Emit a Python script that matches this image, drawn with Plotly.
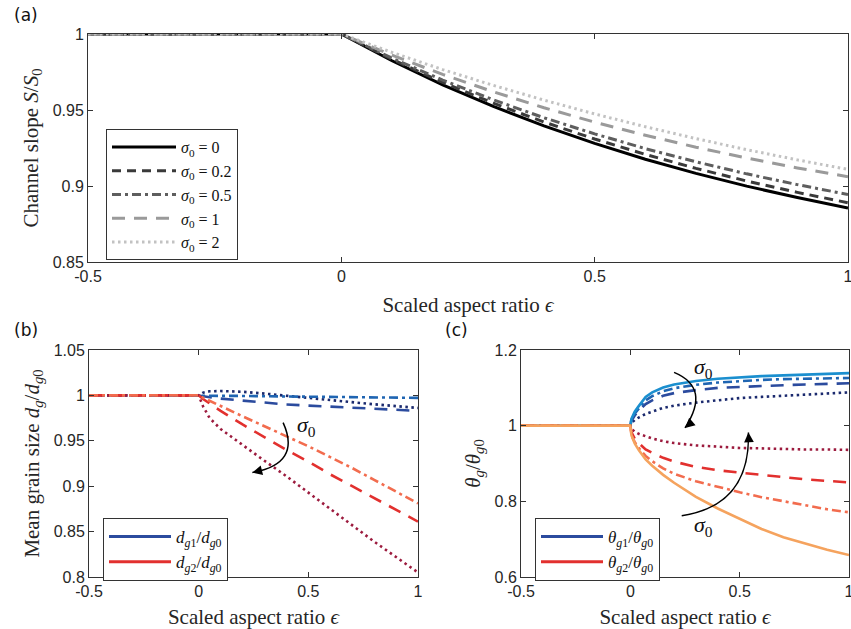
import plotly.graph_objects as go

# ---------------- data ----------------
# panel (a): channel slope S/S0
eps_a = [-0.5, 0.0, 0.1, 0.2, 0.3, 0.4, 0.5, 0.6, 0.7, 0.8, 0.9, 1.0]
S_sig0 = [1, 1, 0.9824, 0.9666, 0.9524, 0.9395, 0.9280, 0.9176, 0.9083, 0.8999, 0.8924, 0.8855]
S_sig02 = [1, 1, 0.9833, 0.9682, 0.9545, 0.9421, 0.9309, 0.9208, 0.9116, 0.9033, 0.8958, 0.8890]
S_sig05 = [1, 1, 0.9841, 0.9697, 0.9567, 0.9449, 0.9343, 0.9246, 0.9159, 0.9080, 0.9009, 0.8944]
S_sig1 = [1, 1, 0.9861, 0.9734, 0.9620, 0.9515, 0.9420, 0.9334, 0.9255, 0.9184, 0.9119, 0.9061]
S_sig2 = [1, 1, 0.9879, 0.9766, 0.9662, 0.9565, 0.9474, 0.9390, 0.9312, 0.9239, 0.9172, 0.9109]
labels_a = ["σ0 = 0", "σ0 = 0.2", "σ0 = 0.5", "σ0 = 1", "σ0 = 2"]

# panel (b): mean grain size
eps_b = [-0.5, 0.0, 0.02, 0.05, 0.1, 0.2, 0.3, 0.4, 0.5, 0.6, 0.7, 0.8, 0.9, 1.0]
dg1_dashdot = [1, 1, 1.0, 0.9999, 0.9997, 0.9994, 0.9991, 0.9988, 0.9985, 0.9982, 0.9979, 0.9977, 0.9975, 0.9973]
dg1_dash = [1, 1, 0.999, 0.998, 0.9965, 0.9943, 0.992, 0.990, 0.9888, 0.9876, 0.9864, 0.9852, 0.984, 0.983]
dg1_dot = [1, 1, 1.003, 1.0045, 1.0048, 1.004, 1.002, 0.9995, 0.9972, 0.9948, 0.9922, 0.9902, 0.9882, 0.9862]
dg2_dashdot = [1, 1, 0.9975, 0.994, 0.988, 0.977, 0.966, 0.955, 0.944, 0.932, 0.920, 0.907, 0.894, 0.881]
dg2_dash = [1, 1, 0.996, 0.991, 0.983, 0.968, 0.954, 0.940, 0.927, 0.913, 0.900, 0.887, 0.874, 0.861]
dg2_dot = [1, 1, 0.988, 0.975, 0.963, 0.945, 0.928, 0.911, 0.893, 0.875, 0.857, 0.839, 0.822, 0.805]

# panel (c): geometric standard deviation
eps_c = [-0.5, 0.0, 0.005, 0.01, 0.02, 0.04, 0.07, 0.1, 0.15, 0.2, 0.3, 0.4, 0.5, 0.6, 0.7, 0.8, 0.9, 1.0]
th1_solid = [1, 1, 1.018, 1.026, 1.037, 1.053, 1.076, 1.088, 1.101, 1.109, 1.118, 1.124, 1.128, 1.131, 1.133, 1.135, 1.137, 1.139]
th1_dashdot = [1, 1, 1.016, 1.023, 1.032, 1.046, 1.067, 1.078, 1.091, 1.099, 1.108, 1.114, 1.118, 1.121, 1.123, 1.124, 1.125, 1.126]
th1_dash = [1, 1, 1.013, 1.019, 1.027, 1.040, 1.057, 1.067, 1.079, 1.086, 1.094, 1.100, 1.103, 1.105, 1.107, 1.109, 1.110, 1.112]
th1_dot = [1, 1, 1.007, 1.010, 1.015, 1.022, 1.031, 1.037, 1.047, 1.053, 1.061, 1.067, 1.073, 1.076, 1.079, 1.082, 1.085, 1.088]
th2_dot = [1, 1, 0.992, 0.989, 0.984, 0.978, 0.971, 0.966, 0.959, 0.954, 0.948, 0.944, 0.941, 0.940, 0.938, 0.937, 0.937, 0.936]
th2_dash = [1, 1, 0.983, 0.976, 0.966, 0.953, 0.937, 0.928, 0.915, 0.905, 0.891, 0.882, 0.876, 0.869, 0.864, 0.858, 0.854, 0.850]
th2_dashdot = [1, 1, 0.978, 0.968, 0.957, 0.940, 0.920, 0.906, 0.887, 0.873, 0.853, 0.838, 0.824, 0.811, 0.800, 0.789, 0.779, 0.771]
th2_solid = [1, 1, 0.975, 0.966, 0.953, 0.934, 0.911, 0.894, 0.870, 0.849, 0.812, 0.781, 0.753, 0.727, 0.705, 0.688, 0.672, 0.658]

xticks = [-0.5, 0, 0.5, 1]
xticktext = ["-0.5", "0", "0.5", "1"]
yticks_a = [0.85, 0.9, 0.95, 1]
yticktext_a = ["0.85", "0.9", "0.95", "1"]
yticks_b = [0.8, 0.85, 0.9, 0.95, 1, 1.05]
yticktext_b = ["0.8", "0.85", "0.9", "0.95", "1", "1.05"]
yticks_c = [0.6, 0.8, 1, 1.2]
yticktext_c = ["0.6", "0.8", "1", "1.2"]

# ---------------- styles ----------------
SERIF = "Liberation Serif"
SANS = "Liberation Sans"
DASH_S = "9px,6px"
DASH_L = "13px,9px"
DASHDOT = "9px,4px,3px,4px"
DOT = "2.5px,3.5px"

BLUE_SOLID = "#1b8fcf"
BLUE_DASHDOT = "#1f65b2"
BLUE_DASH = "#2b4b9e"
BLUE_DOT = "#1b2a6e"
RED_DOT = "#9c1b3e"
RED_DASH = "#e2302e"
RED_DASHDOT = "#f26c4e"
RED_SOLID = "#f5a35e"


def sig(txt):
    val = txt.split("=")[1].strip()
    return "<i>σ</i><sub>0</sub> = " + val


fig = go.Figure()

# panel (a)
a_series = [S_sig0, S_sig02, S_sig05, S_sig1, S_sig2]
a_colors = ["#000000", "#3a3a3a", "#5e5e5e", "#9a9a9a", "#c2c2c2"]
a_dash = ["solid", DASH_S, DASHDOT, DASH_L, DOT]
for ys, col, ds, lab in zip(a_series, a_colors, a_dash, labels_a):
    fig.add_trace(go.Scatter(x=eps_a, y=ys, mode="lines", name=sig(lab),
                             line=dict(color=col, width=3, dash=ds),
                             xaxis="x", yaxis="y", legend="legend"))

# panel (b)
b_series = [(dg1_dot, BLUE_DOT, DOT), (dg1_dash, BLUE_DASH, DASH_L), (dg1_dashdot, BLUE_DASHDOT, DASHDOT),
            (dg2_dot, RED_DOT, DOT), (dg2_dash, RED_DASH, DASH_L), (dg2_dashdot, RED_DASHDOT, DASHDOT)]
for ys, col, ds in b_series:
    fig.add_trace(go.Scatter(x=eps_b, y=ys, mode="lines", showlegend=False,
                             line=dict(color=col, width=2.6, dash=ds),
                             xaxis="x2", yaxis="y2"))
fig.add_trace(go.Scatter(x=[None], y=[None], mode="lines", xaxis="x2", yaxis="y2",
                         name="<i>d</i><sub><i>g</i>1</sub>/<i>d</i><sub><i>g</i>0</sub>",
                         line=dict(color=BLUE_DASH, width=3), legend="legend2"))
fig.add_trace(go.Scatter(x=[None], y=[None], mode="lines", xaxis="x2", yaxis="y2",
                         name="<i>d</i><sub><i>g</i>2</sub>/<i>d</i><sub><i>g</i>0</sub>",
                         line=dict(color=RED_DASH, width=3), legend="legend2"))

# panel (c)
c_series = [(th1_dot, BLUE_DOT, DOT), (th1_dash, BLUE_DASH, DASH_L), (th1_dashdot, BLUE_DASHDOT, DASHDOT),
            (th1_solid, BLUE_SOLID, "solid"),
            (th2_dot, RED_DOT, DOT), (th2_dash, RED_DASH, DASH_L), (th2_dashdot, RED_DASHDOT, DASHDOT),
            (th2_solid, RED_SOLID, "solid")]
for ys, col, ds in c_series:
    fig.add_trace(go.Scatter(x=eps_c, y=ys, mode="lines", showlegend=False,
                             line=dict(color=col, width=2.6, dash=ds),
                             xaxis="x3", yaxis="y3"))
fig.add_trace(go.Scatter(x=[None], y=[None], mode="lines", xaxis="x3", yaxis="y3",
                         name="<i>θ</i><sub><i>g</i>1</sub>/<i>θ</i><sub><i>g</i>0</sub>",
                         line=dict(color=BLUE_DASH, width=3), legend="legend3"))
fig.add_trace(go.Scatter(x=[None], y=[None], mode="lines", xaxis="x3", yaxis="y3",
                         name="<i>θ</i><sub><i>g</i>2</sub>/<i>θ</i><sub><i>g</i>0</sub>",
                         line=dict(color=RED_DASH, width=3), legend="legend3"))

W, H = 851, 629


def ax_common(**kw):
    d = dict(showline=True, linecolor="#333333", linewidth=1, mirror="ticks",
             ticks="inside", ticklen=5, tickcolor="#333333", showgrid=False,
             zeroline=False, tickfont=dict(family=SANS, size=16, color="#262626"),
             automargin=False, ticklabeloverflow="allow")
    d.update(kw)
    return d


xtitle = dict(text="Scaled aspect ratio <i>ϵ</i>", font=dict(family=SERIF, size=21, color="#262626"), standoff=13)

fig.update_layout(
    width=W, height=H, margin=dict(l=0, r=0, t=0, b=0),
    plot_bgcolor="white", paper_bgcolor="white",
    font=dict(family=SERIF, color="#111"),
    xaxis=ax_common(domain=[88 / W, 848 / W], range=[-0.5, 1], tickvals=xticks, ticktext=xticktext,
                    anchor="y", title=xtitle),
    yaxis=ax_common(domain=[1 - 262 / H, 1 - 34 / H], range=[0.85, 1], tickvals=yticks_a,
                    ticktext=yticktext_a, anchor="x",
                    title=dict(text="Channel slope <i>S</i>/<i>S</i><sub>0</sub>",
                               font=dict(family=SERIF, size=21, color="#262626"), standoff=8)),
    xaxis2=ax_common(domain=[89 / W, 418 / W], range=[-0.5, 1], tickvals=xticks, ticktext=xticktext,
                     anchor="y2", title=xtitle),
    yaxis2=ax_common(domain=[1 - 577 / H, 1 - 350 / H], range=[0.8, 1.05], tickvals=yticks_b,
                     ticktext=yticktext_b, anchor="x2",
                     title=dict(text="Mean grain size <i>d<sub>g</sub></i>/<i>d</i><sub><i>g</i>0</sub>",
                                font=dict(family=SERIF, size=21, color="#262626"), standoff=8)),
    xaxis3=ax_common(domain=[521 / W, 849 / W], range=[-0.5, 1], tickvals=xticks, ticktext=xticktext,
                     anchor="y3", title=xtitle),
    yaxis3=ax_common(domain=[1 - 577 / H, 1 - 350 / H], range=[0.6, 1.2], tickvals=yticks_c,
                     ticktext=yticktext_c, anchor="x3",
                     title=dict(text="<i>θ<sub>g</sub></i>/<i>θ</i><sub><i>g</i>0</sub>",
                                font=dict(family=SERIF, size=21, color="#262626"), standoff=8)),
    legend=dict(x=106 / W, y=1 - 129 / H, xanchor="left", yanchor="top", bgcolor="white",
                bordercolor="#333333", borderwidth=1, font=dict(family=SERIF, size=16, color="#111"),
                tracegroupgap=0, itemwidth=64),
    legend2=dict(x=103 / W, y=1 - 518 / H, xanchor="left", yanchor="top", bgcolor="white",
                 bordercolor="#333333", borderwidth=1, font=dict(family=SERIF, size=17, color="#111"),
                 tracegroupgap=0, itemwidth=62),
    legend3=dict(x=535 / W, y=1 - 518 / H, xanchor="left", yanchor="top", bgcolor="white",
                 bordercolor="#333333", borderwidth=1, font=dict(family=SERIF, size=17, color="#111"),
                 tracegroupgap=0, itemwidth=62),
    showlegend=True,
)

# panel labels
for txt, px, py in [("(a)", 12, 15), ("(b)", 12, 330), ("(c)", 443, 330)]:
    fig.add_annotation(text=txt, xref="paper", yref="paper", x=px / W, y=1 - py / H,
                       xanchor="left", yanchor="middle", showarrow=False,
                       font=dict(family="DejaVu Sans", size=17, color="#111"))


def curved_arrow(xr, yr, p0, c, p1, pre):
    fig.add_shape(type="path", xref=xr, yref=yr,
                  path=f"M {p0[0]},{p0[1]} Q {c[0]},{c[1]} {p1[0]},{p1[1]}",
                  line=dict(color="black", width=1.5))
    fig.add_annotation(xref=xr, yref=yr, axref=xr, ayref=yr, x=p1[0], y=p1[1], ax=pre[0], ay=pre[1],
                       text="", showarrow=True, arrowhead=2, arrowsize=1.3, arrowwidth=1.5,
                       arrowcolor="black")


sig_font = dict(family=SERIF, size=22, color="#111")
curved_arrow("x2", "y2", (0.385, 0.970), (0.47, 0.925), (0.245, 0.915), (0.27, 0.9165))
fig.add_annotation(xref="x2", yref="y2", x=0.49, y=0.966, text="<i>σ</i><sub>0</sub>",
                   showarrow=False, font=sig_font)
curved_arrow("x3", "y3", (0.20, 1.141), (0.37, 1.10), (0.25, 0.994), (0.27, 1.004))
fig.add_annotation(xref="x3", yref="y3", x=0.335, y=1.152, text="<i>σ</i><sub>0</sub>",
                   showarrow=False, font=sig_font)
curved_arrow("x3", "y3", (0.235, 0.762), (0.55, 0.79), (0.54, 0.982), (0.542, 0.962))
fig.add_annotation(xref="x3", yref="y3", x=0.335, y=0.735, text="<i>σ</i><sub>0</sub>",
                   showarrow=False, font=sig_font)

fig.write_html("out.html")
